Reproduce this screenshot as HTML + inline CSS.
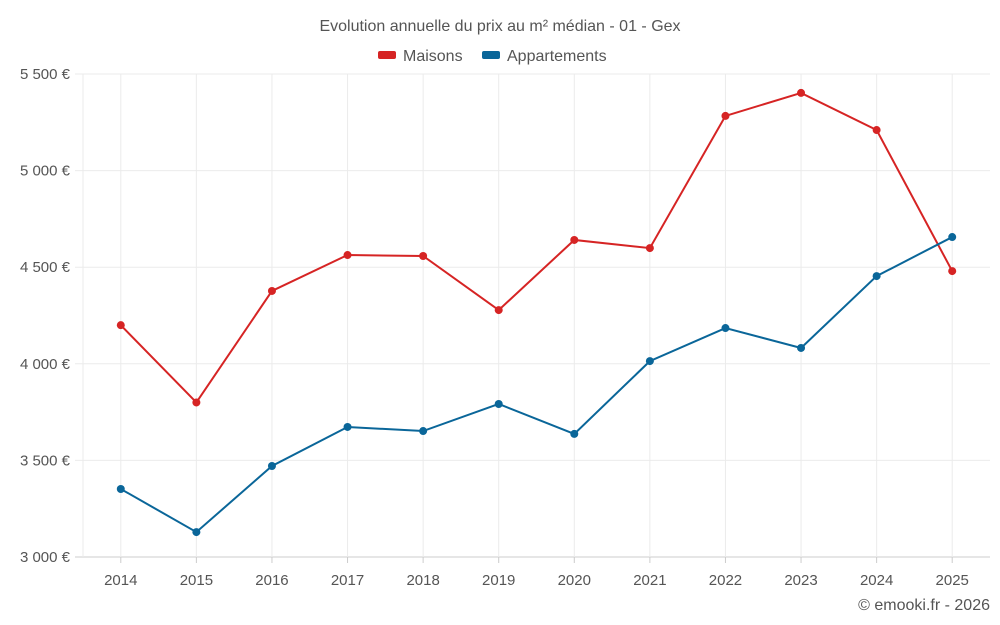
<!DOCTYPE html>
<html><head><meta charset="utf-8"><style>
html,body{margin:0;padding:0;background:#fff;width:1000px;height:625px;overflow:hidden;font-family:"Liberation Sans",sans-serif;}
</style></head><body>
<svg id="chart" width="1000" height="625" xmlns="http://www.w3.org/2000/svg">
<text x="500" y="31" text-anchor="middle" font-size="16" fill="#555">Evolution annuelle du prix au m² médian - 01 - Gex</text>
<g>
<g><rect x="378" y="51" width="18" height="8" rx="2" fill="#d62424"/><text x="403" y="61" font-size="16" fill="#555">Maisons</text></g>
<g><rect x="482" y="51" width="18" height="8" rx="2" fill="#0a6699"/><text x="507" y="61" font-size="16" fill="#555">Appartements</text></g>
</g>
<g id="grid"></g><g id="axes"></g><g id="series"></g>
<text x="990" y="610" text-anchor="end" font-size="16" fill="#555">© emooki.fr - 2026</text>
</svg>
<script>
const categories=[2014,2015,2016,2017,2018,2019,2020,2021,2022,2023,2024,2025];
const maisons=[4200,3800,4377,4563,4558,4278,4641,4599,5283,5402,5210,4480];
const appartements=[3352,3129,3471,3673,3652,3792,3637,4014,4185,4082,4454,4656];
const yTicks=[3000,3500,4000,4500,5000,5500];
const yTickLabels=["3 000 €","3 500 €","4 000 €","4 500 €","5 000 €","5 500 €"];
const NS="http://www.w3.org/2000/svg";
const L=83,R=990,T=74,B=557,yMin=3000,yMax=5500;
const step=(R-L)/categories.length;
const x=i=>L+step*(i+0.5);
const y=v=>B-(v-yMin)/(yMax-yMin)*(B-T);
function mk(tag,attrs,parent){const e=document.createElementNS(NS,tag);for(const k in attrs)e.setAttribute(k,attrs[k]);parent.appendChild(e);return e;}
const grid=document.getElementById('grid'),axes=document.getElementById('axes'),series=document.getElementById('series');
yTicks.forEach((t,i)=>{
  const g=mk('line',{x1:75,x2:R,y1:y(t),y2:y(t),stroke:i==0?'#ccc':'#ebebeb','stroke-width':1},grid);
  
  
  const lb=mk('text',{x:70,y:y(t)+5,'text-anchor':'end','font-size':15,fill:'#555'},axes);
  lb.textContent=yTickLabels[i];
  
  
});
const edge=mk('line',{x1:L,x2:L,y1:T,y2:B,stroke:'#ebebeb','stroke-width':1},grid);


categories.forEach((c,i)=>{
  const g=mk('line',{x1:x(i),x2:x(i),y1:T,y2:B,stroke:'#ebebeb','stroke-width':1},grid);
  
  
  const tk=mk('line',{x1:x(i),x2:x(i),y1:B,y2:B+6,stroke:'#ccc'},axes);
  
  
  const lb=mk('text',{x:x(i),y:585,'text-anchor':'middle','font-size':15,fill:'#555'},axes);
  lb.textContent=c;
  
  
});
function draw(vals,color,name){
  const p=mk('polyline',{points:vals.map((v,i)=>x(i)+','+y(v)).join(' '),fill:'none',stroke:color,'stroke-width':2},series);
  
  
  vals.forEach((v,i)=>{
    const c=mk('circle',{cx:x(i),cy:y(v),r:4,fill:color},series);
    
    
  });
}
draw(maisons,'#d62424','maisons');
draw(appartements,'#0a6699','appartements');
</script>
</body></html>
